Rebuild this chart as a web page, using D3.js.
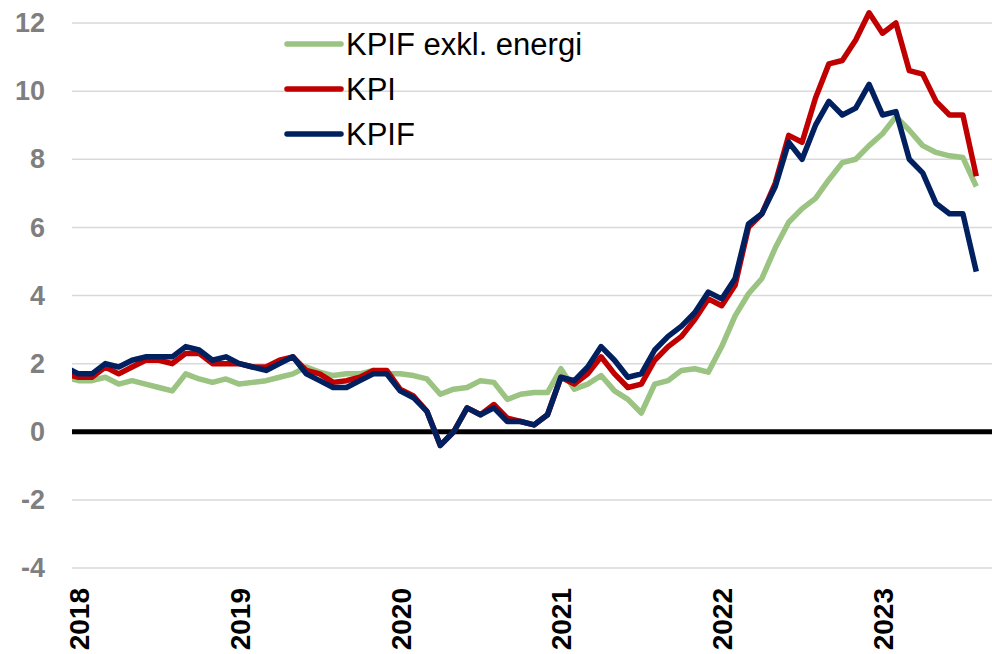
<!DOCTYPE html>
<html>
<head>
<meta charset="utf-8">
<script src="https://cdn.jsdelivr.net/npm/d3@7"></script>
<style>
  body { margin: 0; background: #fff; }
  svg { display: block; font-family: "Liberation Sans", Arial, sans-serif; }
</style>
</head>
<body>
<script>
// monthly data, Dec 2017 .. Aug 2023 (Dec 2017 is cut by the left edge)
var months = d3.timeMonth.range(new Date(2017, 11, 1), new Date(2023, 8, 1))
  .map(function(d) { return d3.timeFormat("%Y-%m")(d); });

var kpifExEnergi = [
  1.6,
  1.5, 1.5, 1.6, 1.4, 1.5, 1.4, 1.3, 1.2, 1.7, 1.55, 1.45, 1.55,
  1.4, 1.45, 1.5, 1.6, 1.7, 1.9, 1.75, 1.65, 1.7, 1.7, 1.8, 1.7,
  1.7, 1.65, 1.55, 1.1, 1.25, 1.3, 1.5, 1.45, 0.95, 1.1, 1.15, 1.15,
  1.85, 1.25, 1.4, 1.65, 1.2, 0.95, 0.55, 1.4, 1.5, 1.8, 1.85, 1.75,
  2.5, 3.4, 4.05, 4.5, 5.4, 6.15, 6.55, 6.85, 7.4, 7.9, 8.0, 8.4,
  8.75, 9.25, 8.85, 8.4, 8.2, 8.1, 8.05, 7.2
];
var kpi = [
  1.7,
  1.6, 1.6, 1.9, 1.7, 1.9, 2.1, 2.1, 2.0, 2.3, 2.3, 2.0, 2.0,
  2.0, 1.9, 1.9, 2.1, 2.2, 1.8, 1.7, 1.45, 1.5, 1.6, 1.8, 1.8,
  1.25, 1.05, 0.6, -0.4, 0.0, 0.7, 0.5, 0.8, 0.4, 0.3, 0.2, 0.5,
  1.6, 1.4, 1.7, 2.2, 1.7, 1.3, 1.4, 2.1, 2.5, 2.8, 3.3, 3.9,
  3.7, 4.3, 6.0, 6.4, 7.3, 8.7, 8.5, 9.8, 10.8, 10.9, 11.5, 12.3,
  11.7, 12.0, 10.6, 10.5, 9.7, 9.3, 9.3, 7.5
];
var kpif = [
  1.9,
  1.7, 1.7, 2.0, 1.9, 2.1, 2.2, 2.2, 2.2, 2.5, 2.4, 2.1, 2.2,
  2.0, 1.9, 1.8, 2.0, 2.2, 1.7, 1.5, 1.3, 1.3, 1.5, 1.7, 1.7,
  1.2, 1.0, 0.6, -0.4, 0.0, 0.7, 0.5, 0.7, 0.3, 0.3, 0.2, 0.5,
  1.6, 1.5, 1.9, 2.5, 2.1, 1.6, 1.7, 2.4, 2.8, 3.1, 3.5, 4.1,
  3.9, 4.5, 6.1, 6.4, 7.2, 8.5, 8.0, 9.0, 9.7, 9.3, 9.5, 10.2,
  9.3, 9.4, 8.0, 7.6, 6.7, 6.4, 6.4, 4.7
];

var seriesNames = ["KPIF exkl. energi", "KPI", "KPIF"];
var seriesColors = ["#9bc382", "#c00000", "#002060"];
var seriesValues = [kpifExEnergi, kpi, kpif];
var yTicks = [-4, -2, 0, 2, 4, 6, 8, 10, 12];
var yearTicks = months.filter(function(m) { return m.slice(5) === "01"; });

var width = 992, height = 654;
var plot = {left: 72, right: 992, top: 23, bottom: 568};

var svg = d3.select("body").append("svg")
  .attr("width", width)
  .attr("height", height);

var xScale = d3.scalePoint()
  .domain(months)
  .range([65.1, 976.3]);

var yScale = d3.scaleLinear()
  .domain([-4, 12])
  .range([plot.bottom, plot.top]);

svg.append("clipPath").attr("id", "clip")
  .append("rect")
  .attr("x", plot.left).attr("y", 0)
  .attr("width", plot.right - plot.left).attr("height", height);

// gridlines
svg.append("g").selectAll("line")
  .data(yTicks.filter(function(d) { return d !== 0; }))
  .enter().append("line")
  .attr("x1", plot.left).attr("x2", plot.right)
  .attr("y1", function(d) { return yScale(d); })
  .attr("y2", function(d) { return yScale(d); })
  .attr("stroke", "#d9d9d9")
  .attr("stroke-width", 1.5);

// zero line
svg.append("line")
  .attr("x1", plot.left).attr("x2", plot.right)
  .attr("y1", yScale(0)).attr("y2", yScale(0))
  .attr("stroke", "#000")
  .attr("stroke-width", 5);

// axis-y (plain hyphen for negatives, like the original)
var yAxis = svg.append("g")
  .attr("transform", "translate(" + plot.left + ",0)")
  .call(d3.axisLeft(yScale).tickValues(yTicks).tickSize(0).tickPadding(27)
    .tickFormat(function(d) { return String(d); }));
yAxis.select(".domain").remove();
yAxis.selectAll("text")
  .attr("font-size", "27px")
  .attr("font-weight", "bold")
  .attr("font-family", "'Liberation Sans', Arial, sans-serif")
  .attr("fill", "#7f7f7f");

// axis-x, rotated year labels
var xAxis = svg.append("g")
  .attr("transform", "translate(0,588)")
  .call(d3.axisBottom(xScale).tickValues(yearTicks).tickSize(0)
    .tickFormat(function(d) { return d.slice(0, 4); }));
xAxis.select(".domain").remove();
xAxis.selectAll("text")
  .attr("transform", "rotate(-90)")
  .attr("x", 0)
  .attr("y", 0)
  .attr("dy", "0.36em")
  .attr("text-anchor", "end")
  .attr("font-size", "28px")
  .attr("font-weight", "bold")
  .attr("font-family", "'Liberation Sans', Arial, sans-serif")
  .attr("fill", "#000");

// lines
var line = d3.line()
  .x(function(d, i) { return xScale(months[i]); })
  .y(function(d) { return yScale(d); });

svg.append("g").attr("clip-path", "url(#clip)")
  .selectAll("path")
  .data(seriesValues)
  .enter().append("path")
  .attr("d", function(d) { return line(d); })
  .attr("fill", "none")
  .attr("stroke", function(d, i) { return seriesColors[i]; })
  .attr("stroke-width", 5.5)
  .attr("stroke-linejoin", "round");

// legend
var legend = svg.append("g").selectAll("g")
  .data(seriesNames)
  .enter().append("g")
  .attr("transform", function(d, i) { return "translate(287," + (44 + i * 45) + ")"; });

legend.append("line")
  .attr("x1", 0).attr("x2", 54)
  .attr("stroke", function(d, i) { return seriesColors[i]; })
  .attr("stroke-width", 5.5)
  .attr("stroke-linecap", "round");

legend.append("text")
  .attr("x", 59)
  .attr("y", 11)
  .attr("font-size", "31px")
  .attr("fill", "#000")
  .text(function(d) { return d; });
</script>
</body>
</html>
